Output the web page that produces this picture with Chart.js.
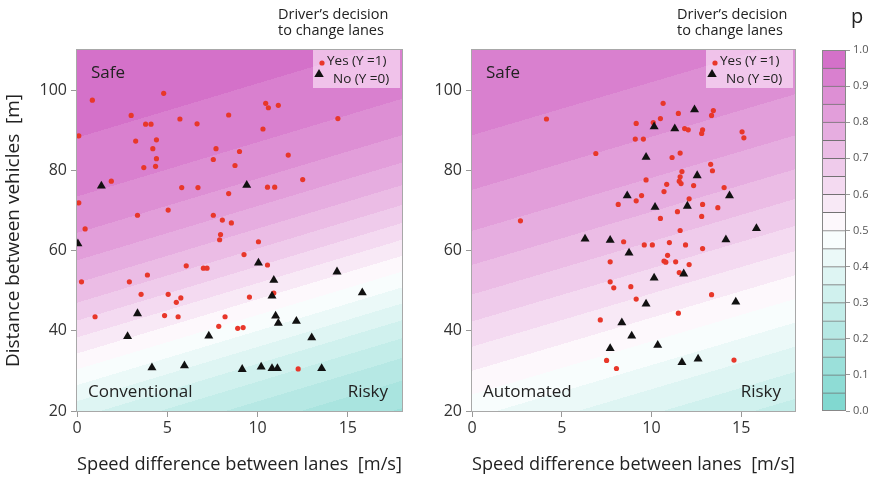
<!DOCTYPE html>
<html>
<head>
<meta charset="utf-8">
<script src="https://cdn.jsdelivr.net/npm/chart.js@4.4.1/dist/chart.umd.min.js"></script>
<style>
  html, body { margin: 0; padding: 0; background: #fff; }
  #wrap { position: relative; width: 881px; height: 477px; overflow: hidden; font-family: 'Open Sans', sans-serif; }
  canvas { position: absolute; top: 0; }
  .note { position: absolute; font-size: 14.5px; line-height: 16px; color: #222; white-space: nowrap; }
</style>
</head>
<body>
<div id="wrap">
  <canvas id="conv" width="420" height="477" style="left:0"></canvas>
  <canvas id="auto" width="400" height="477" style="left:420px"></canvas>
  <canvas id="bar" width="71" height="477" style="left:810px"></canvas>
  <div class="note" style="left:278px;top:6px">Driver’s decision<br>to change lanes</div>
  <div class="note" style="left:677px;top:6px">Driver’s decision<br>to change lanes</div>
  <div class="note" style="left:851px;top:4px;font-size:20px;line-height:24px">p</div>
</div>
<script>
// ── Data ───────────────────────────────────────────────────
const xTicks = [0, 5, 10, 15];
const yTicks = [20, 40, 60, 80, 100];
const pLevels = [0, 0.05, 0.1, 0.15, 0.2, 0.25, 0.3, 0.35, 0.4, 0.45, 0.5,
                 0.55, 0.6, 0.65, 0.7, 0.75, 0.8, 0.85, 0.9, 0.95, 1.0];

// logistic fit: [intercept, speed coef, distance coef]
const coefConventional = [-1.55, -0.069, 0.051];
const coefAutomated = [-0.82, -0.045, 0.034];

// conventional driving – [speed diff, distance]
const convYes = [
  [0.85, 97.5], [4.8, 99.2], [0.1, 88.6], [3.0, 93.7], [3.8, 91.5], [4.1, 91.5], [5.7, 92.8],
  [6.65, 91.6], [8.4, 93.8], [10.45, 96.7], [10.6, 95.6], [11.15, 96.2], [10.3, 90.3], [14.45, 92.9],
  [3.25, 87.3], [4.4, 87.6], [4.2, 85.4], [4.4, 82.9], [3.7, 80.7], [4.35, 81.0], [1.9, 77.3],
  [7.7, 85.4], [7.55, 82.7], [9.0, 84.7], [8.75, 81.2], [11.7, 83.8], [12.5, 77.7], [5.8, 75.7],
  [6.7, 75.7], [10.55, 75.8], [10.95, 75.8], [8.4, 74.2], [0.1, 71.9], [3.35, 68.8], [5.05, 70.1],
  [7.55, 68.8], [8.05, 67.6], [8.55, 66.9], [0.45, 65.4], [7.95, 64.0], [7.9, 62.7], [10.05, 62.2],
  [9.25, 59.0], [6.05, 56.2], [7.0, 55.6], [7.2, 55.6], [10.55, 56.4], [3.9, 53.9], [0.25, 52.2],
  [2.9, 52.2], [3.55, 49.1], [5.05, 49.1], [5.75, 48.2], [5.5, 47.1], [9.55, 48.4], [10.9, 49.4],
  [1.0, 43.5], [4.85, 43.8], [5.6, 43.5], [8.2, 43.5], [7.85, 41.1], [8.9, 40.6], [9.2, 40.8],
  [12.25, 30.5]
];
const convNo = [
  [1.35, 76.1], [9.4, 76.3], [0.05, 61.7], [10.05, 56.9], [14.4, 54.7], [10.9, 52.6], [15.8, 49.5],
  [10.8, 48.7], [3.35, 44.3], [11.0, 43.7], [11.15, 41.9], [12.15, 42.4], [2.8, 38.6], [7.3, 38.7],
  [13.0, 38.3], [4.15, 30.8], [5.95, 31.3], [9.15, 30.4], [10.2, 31.0], [10.8, 30.6], [11.1, 30.6],
  [13.55, 30.6]
];

// automated driving
const autoYes = [
  [4.15, 92.8], [10.65, 96.7], [11.5, 94.2], [10.5, 92.9], [9.15, 91.7], [10.1, 91.9], [13.45, 94.9],
  [13.35, 93.7], [11.85, 90.4], [12.05, 90.1], [12.85, 90.1], [12.8, 89.2], [9.1, 87.8], [9.55, 87.8],
  [15.05, 89.6], [15.15, 88.1], [6.9, 84.2], [11.15, 83.2], [11.6, 84.3], [13.3, 81.5], [13.4, 79.9],
  [11.7, 79.7], [11.6, 78.4], [11.55, 77.3], [11.65, 76.7], [9.7, 77.6], [10.85, 76.5], [10.7, 74.7],
  [12.35, 76.2], [14.05, 75.7], [9.45, 73.7], [9.15, 72.4], [8.15, 71.5], [12.1, 72.9], [12.85, 71.5],
  [13.7, 70.7], [11.45, 69.7], [10.5, 68.0], [12.8, 68.5], [2.7, 67.4], [11.6, 65.0], [8.45, 62.2],
  [9.6, 61.4], [10.05, 61.4], [11.0, 62.0], [11.9, 61.4], [12.85, 60.5], [7.7, 57.2], [10.9, 58.8],
  [10.7, 57.4], [10.8, 57.1], [11.35, 57.2], [12.1, 56.5], [11.55, 54.5], [7.7, 52.2], [7.9, 50.7],
  [8.85, 51.0], [9.15, 47.9], [13.35, 49.0], [11.5, 44.4], [7.15, 42.7], [7.5, 32.6], [8.05, 30.6],
  [14.6, 32.7]
];
const autoNo = [
  [12.4, 95.1], [10.15, 90.9], [11.3, 90.4], [9.7, 83.3], [12.55, 78.7], [8.65, 73.7], [14.35, 73.7],
  [10.2, 70.8], [12.0, 71.1], [15.85, 65.5], [6.3, 62.9], [7.7, 62.6], [14.15, 62.7], [8.75, 59.4],
  [10.15, 53.2], [11.8, 54.2], [9.7, 46.7], [14.7, 47.2], [8.35, 42.0], [8.9, 38.7], [10.35, 36.4],
  [7.7, 35.6], [11.7, 32.1], [12.6, 33.0]
];

// ── Colours ────────────────────────────────────────────────
const RED = '#e8372a';
const MAG = [210, 106, 198];
const TEAL = [122, 214, 206];

function bandColor(p) {
    const k = Math.min(pLevels.length - 2, Math.max(0, Math.floor(p * 20)));
    const pm = (pLevels[k] + pLevels[k + 1]) / 2;
    const end = pm >= 0.5 ? MAG : TEAL;
    const t = Math.abs(pm - 0.5) / 0.5;
    return [0, 1, 2].map(i => Math.round(255 + (end[i] - 255) * t));
}
const rgb = c => `rgb(${c[0]},${c[1]},${c[2]})`;

Chart.defaults.font.family = "'Open Sans', sans-serif";
Chart.defaults.color = '#333';

// ── Plugins ────────────────────────────────────────────────
const probBackground = {
    id: 'probBackground',
    beforeDraw(chart, args, opts) {
        const { ctx, chartArea: a, scales: { x, y } } = chart;
        const w = Math.round(a.right - a.left), h = Math.round(a.bottom - a.top);
        const img = ctx.createImageData(w, h);
        const c = opts.coef;
        for (let j = 0; j < h; j++) {
            const yv = y.getValueForPixel(a.top + j + 0.5);
            for (let i = 0; i < w; i++) {
                const xv = x.getValueForPixel(a.left + i + 0.5);
                const p = 1 / (1 + Math.exp(-(c[0] + c[1] * xv + c[2] * yv)));
                const col = bandColor(p);
                const o = (j * w + i) * 4;
                img.data[o] = col[0]; img.data[o + 1] = col[1]; img.data[o + 2] = col[2]; img.data[o + 3] = 255;
            }
        }
        ctx.putImageData(img, Math.round(a.left), Math.round(a.top));
    }
};

function drawTriangle(ctx, cx, cy, r) {
    ctx.beginPath();
    ctx.moveTo(cx, cy - r);
    ctx.lineTo(cx + r * 0.95, cy + r * 0.6);
    ctx.lineTo(cx - r * 0.95, cy + r * 0.6);
    ctx.closePath();
    ctx.fill();
}

const panelDecor = {
    id: 'panelDecor',
    afterDraw(chart, args, opts) {
        const { ctx, chartArea: a } = chart;
        ctx.save();
        // frame
        ctx.strokeStyle = '#a8a8a8';
        ctx.lineWidth = 1;
        ctx.strokeRect(a.left - 0.5, a.top - 0.5, a.right - a.left + 1, a.bottom - a.top + 1);

        // legend box
        const bx = a.right - 89, by = a.top;
        ctx.fillStyle = 'rgba(255,238,252,0.6)';
        ctx.fillRect(bx, by, 87, 38);
        ctx.fillStyle = RED;
        ctx.beginPath(); ctx.arc(bx + 9, by + 13, 2.6, 0, Math.PI * 2); ctx.fill();
        ctx.fillStyle = '#111';
        drawTriangle(ctx, bx + 6, by + 24, 5);
        ctx.font = "13.5px 'Open Sans', sans-serif";
        ctx.fillStyle = '#222';
        ctx.textBaseline = 'middle';
        ctx.textAlign = 'left';
        ctx.fillText(chart.data.datasets[1].label, bx + 14, by + 11);
        ctx.fillText(chart.data.datasets[0].label, bx + 20, by + 29);

        // region labels
        ctx.font = "17px 'Open Sans', sans-serif";
        ctx.fillStyle = '#222';
        ctx.fillText('Safe', a.left + 14, a.top + 23);
        ctx.fillText(opts.mode, a.left + 11, a.bottom - 19);
        ctx.textAlign = 'right';
        ctx.fillText('Risky', a.right - 14, a.bottom - 19);
        ctx.restore();
    }
};

// ── Panels ─────────────────────────────────────────────────
function makePanel(canvasId, yes, no, coef, mode, yAxisWidth, padRight, showYTitle, xTitleAlign) {
    const toPts = arr => arr.map(([x, y]) => ({ x, y }));
    return new Chart(document.getElementById(canvasId), {
        type: 'scatter',
        data: {
            datasets: [
                {
                    label: 'No (Y =0)',
                    data: toPts(no),
                    pointStyle: 'triangle',
                    pointRadius: 5.2,
                    backgroundColor: '#111',
                    borderColor: '#111',
                    borderWidth: 0
                },
                {
                    label: 'Yes (Y =1)',
                    data: toPts(yes),
                    pointStyle: 'circle',
                    pointRadius: 2.6,
                    backgroundColor: RED,
                    borderColor: RED,
                    borderWidth: 0
                }
            ]
        },
        options: {
            responsive: false,
            animation: false,
            layout: { padding: { top: 50, right: padRight, left: 0, bottom: 0 } },
            plugins: {
                legend: { display: false },
                tooltip: { enabled: false },
                probBackground: { coef },
                panelDecor: { mode }
            },
            scales: {
                x: {
                    type: 'linear',
                    min: 0,
                    max: 18,
                    afterFit: s => { s.height = 66; },
                    afterBuildTicks: s => { s.ticks = xTicks.map(v => ({ value: v })); },
                    ticks: { font: { size: 16 }, color: '#333', padding: 2 },
                    grid: { drawOnChartArea: false, tickLength: 6, color: '#999' },
                    border: { display: false },
                    title: {
                        display: true,
                        text: 'Speed difference between lanes  [m/s]',
                        align: xTitleAlign,
                        font: { size: 19 },
                        color: '#222',
                        padding: { top: 0, bottom: 1 }
                    }
                },
                y: {
                    type: 'linear',
                    min: 20,
                    max: 110,
                    afterFit: s => { s.width = yAxisWidth; },
                    afterBuildTicks: s => { s.ticks = yTicks.map(v => ({ value: v })); },
                    ticks: { font: { size: 16 }, color: '#333', padding: 4 },
                    grid: { drawOnChartArea: false, tickLength: 6, color: '#999' },
                    border: { display: false },
                    title: {
                        display: showYTitle,
                        text: 'Distance between vehicles  [m]',
                        font: { size: 19 },
                        color: '#222',
                        padding: { top: 2, bottom: 0 }
                    }
                }
            }
        },
        plugins: [probBackground, panelDecor]
    });
}

makePanel('conv', convYes, convNo, coefConventional, 'Conventional', 77, 18, true, 'end');
makePanel('auto', autoYes, autoNo, coefAutomated, 'Automated', 52, 25, false, 'center');

// ── Colour bar ─────────────────────────────────────────────
const barFrame = {
    id: 'barFrame',
    afterDraw(chart) {
        const { ctx, chartArea: a } = chart;
        ctx.save();
        ctx.strokeStyle = '#888';
        ctx.lineWidth = 1;
        ctx.strokeRect(a.left + 0.5, a.top + 0.5, a.right - a.left - 1, a.bottom - a.top - 1);
        ctx.restore();
    }
};

new Chart(document.getElementById('bar'), {
    type: 'bar',
    data: {
        labels: ['p'],
        datasets: pLevels.slice(0, -1).map((lo, i) => ({
            data: [pLevels[i + 1] - lo],
            backgroundColor: rgb(bandColor((lo + pLevels[i + 1]) / 2)),
            borderColor: 'rgba(70,70,70,0.75)',
            borderWidth: { top: 1, bottom: 0, left: 0, right: 0 },
            borderSkipped: false,
            barPercentage: 1,
            categoryPercentage: 1
        }))
    },
    options: {
        responsive: false,
        animation: false,
        layout: { padding: { top: 50, left: 12, right: 0, bottom: 66 } },
        plugins: { legend: { display: false }, tooltip: { enabled: false } },
        scales: {
            x: { stacked: true, display: false },
            y: {
                stacked: true,
                position: 'right',
                min: 0,
                max: 1,
                afterFit: s => { s.width = 35; },
                afterBuildTicks: s => { s.ticks = pLevels.filter((v, i) => i % 2 === 0).map(v => ({ value: v })); },
                ticks: { font: { size: 11 }, color: '#555', padding: 3, callback: v => v.toFixed(1) },
                grid: { drawOnChartArea: false, tickLength: 4, color: '#999' },
                border: { display: false }
            }
        }
    },
    plugins: [barFrame]
});
</script>
</body>
</html>
